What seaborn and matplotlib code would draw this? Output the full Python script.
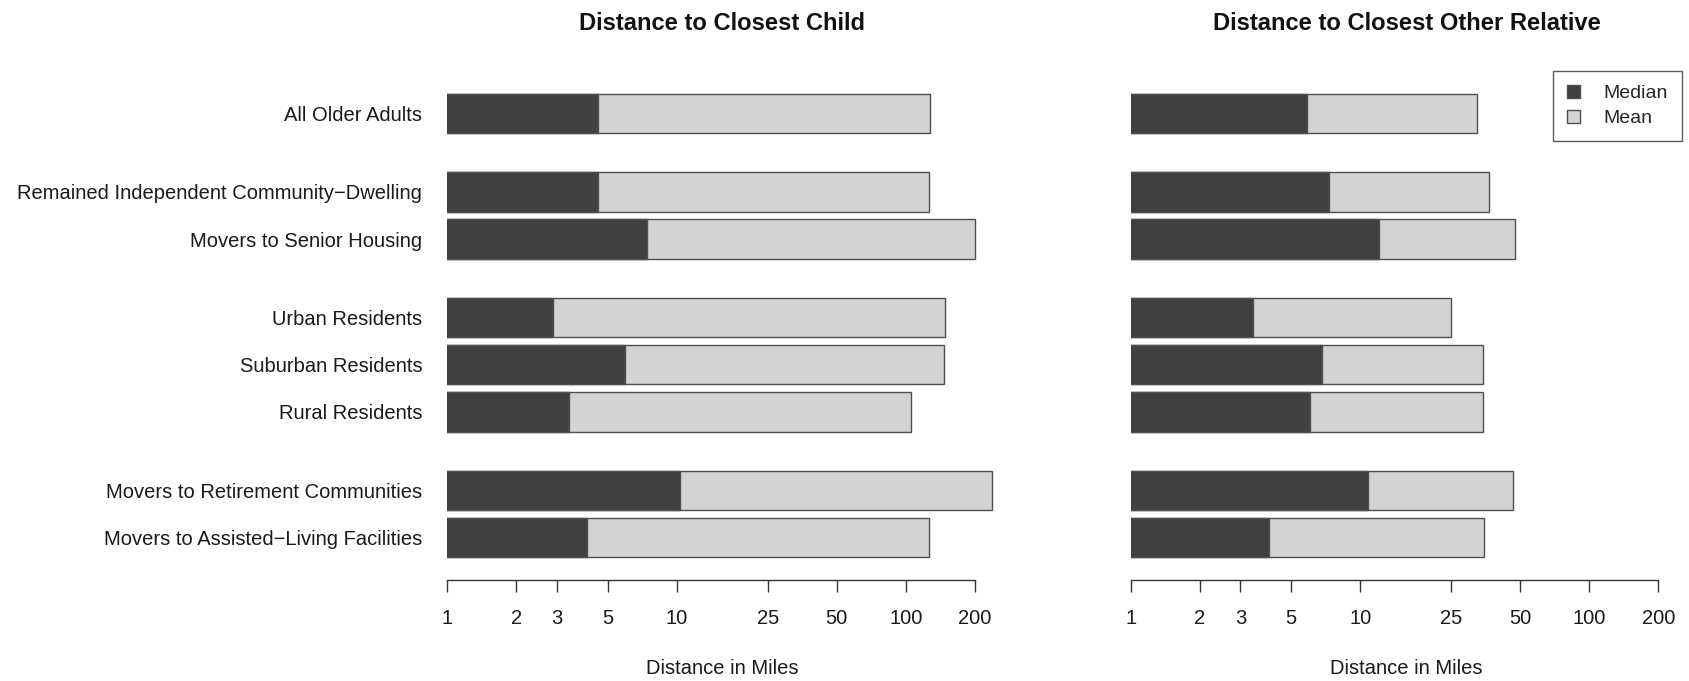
import numpy as np
import pandas as pd
import matplotlib
matplotlib.use("Agg")
import matplotlib.pyplot as plt
from matplotlib.patches import Patch
from matplotlib.ticker import NullLocator
import seaborn as sns

# groups of rows, top to bottom
groups = [
    ["All Older Adults"],
    ["Remained Independent Community\u2212Dwelling", "Movers to Senior Housing"],
    ["Urban Residents", "Suburban Residents", "Rural Residents"],
    ["Movers to Retirement Communities", "Movers to Assisted\u2212Living Facilities"],
]
categories = [c for g in groups for c in g]

# miles
child_median = [4.55, 4.55, 7.4, 2.9, 5.95, 3.4, 10.4, 4.05]
child_mean = [128, 126, 200, 148, 147, 105, 238, 127]
relative_median = [5.85, 7.3, 12.1, 3.4, 6.8, 6.05, 10.8, 4.0]
relative_mean = [32.4, 36.6, 47.3, 24.9, 34.4, 34.2, 46.6, 34.8]

tick_values = [1, 2, 3, 5, 10, 25, 50, 100, 200]

DARK = "#404040"
LIGHT = "#D3D3D3"
EDGE = "#505050"

# bar slots: 1.2 between bars in a group, 2.0 between groups (like R barplot space)
positions = []
y = 0.0
for g in groups:
    for _ in g:
        positions.append(y)
        y += 1.2
    y += 0.8

sns.set_theme(style="white")
plt.rcParams["font.family"] = ["Liberation Sans", "DejaVu Sans"]

W, H = 1690, 681
fig = plt.figure(figsize=(W / 100, H / 100), dpi=100)
bottom_px, top_px = 580, 85.8
decade_px = 229.2
span = np.log10(250) * decade_px
ax1 = fig.add_axes([447.3 / W, 1 - bottom_px / H, span / W, (bottom_px - top_px) / H])
ax2 = fig.add_axes([1131.0 / W, 1 - bottom_px / H, span / W, (bottom_px - top_px) / H])


def draw_panel(ax, medians, means, show_labels):
    ax.set_xscale("log")
    df = pd.DataFrame({"pos": positions, "median": medians, "mean": means})
    sns.barplot(data=df, x="mean", y="pos", orient="y", native_scale=True,
                width=1 / 1.2, color=LIGHT, saturation=1, errorbar=None,
                edgecolor=EDGE, linewidth=1.0, ax=ax)
    sns.barplot(data=df, x="median", y="pos", orient="y", native_scale=True,
                width=1 / 1.2, color=DARK, saturation=1, errorbar=None,
                edgecolor=EDGE, linewidth=1.0, ax=ax)
    ax.set_xlim(1, 250)
    ax.set_ylim(11.88, -0.7)
    ax.set_xticks(tick_values)
    ax.set_xticklabels([str(v) for v in tick_values])
    ax.xaxis.set_minor_locator(NullLocator())
    ax.set_yticks(positions)
    if show_labels:
        ax.set_yticklabels(categories)
    else:
        ax.set_yticklabels([])
    ax.tick_params(axis="y", length=0, pad=18, labelsize=14.5, colors="#1a1a1a")
    ax.tick_params(axis="x", bottom=True, direction="out", length=8.6, width=1.0,
                   color="#333333", pad=12, labelsize=14.5, labelcolor="#1a1a1a")
    for side in ["top", "right", "left"]:
        ax.spines[side].set_visible(False)
    ax.spines["bottom"].set_bounds(1, 200)
    ax.spines["bottom"].set_color("#333333")
    ax.spines["bottom"].set_linewidth(1.0)
    ax.set_xlabel("")
    ax.set_ylabel("")


draw_panel(ax1, child_median, child_mean, True)
draw_panel(ax2, relative_median, relative_mean, False)

fig.text(722 / W, 1 - 30 / H, "Distance to Closest Child", ha="center", va="baseline",
         fontsize=17.1, fontweight="bold", color="#111111")
fig.text(1406.6 / W, 1 - 30 / H, "Distance to Closest Other Relative", ha="center", va="baseline",
         fontsize=17.1, fontweight="bold", color="#111111")
fig.text(722 / W, 1 - 674 / H, "Distance in Miles", ha="center", va="baseline",
         fontsize=14.5, color="#1a1a1a")
fig.text(1406.6 / W, 1 - 674 / H, "Distance in Miles", ha="center", va="baseline",
         fontsize=14.5, color="#1a1a1a")

handles = [Patch(facecolor=DARK, edgecolor=EDGE, label="Median"),
           Patch(facecolor=LIGHT, edgecolor=EDGE, label="Mean")]
leg = fig.legend(handles=handles, loc="upper right", bbox_to_anchor=(1681.7 / W, 1 - 71 / H),
                 fontsize=14, frameon=True, fancybox=False, handlelength=0.7, handleheight=0.7,
                 handletextpad=1.2, borderpad=0.7, labelspacing=0.38, borderaxespad=0)
leg.get_frame().set_edgecolor("#333333")
leg.get_frame().set_linewidth(1.0)

fig.savefig("out.png", dpi=100)
